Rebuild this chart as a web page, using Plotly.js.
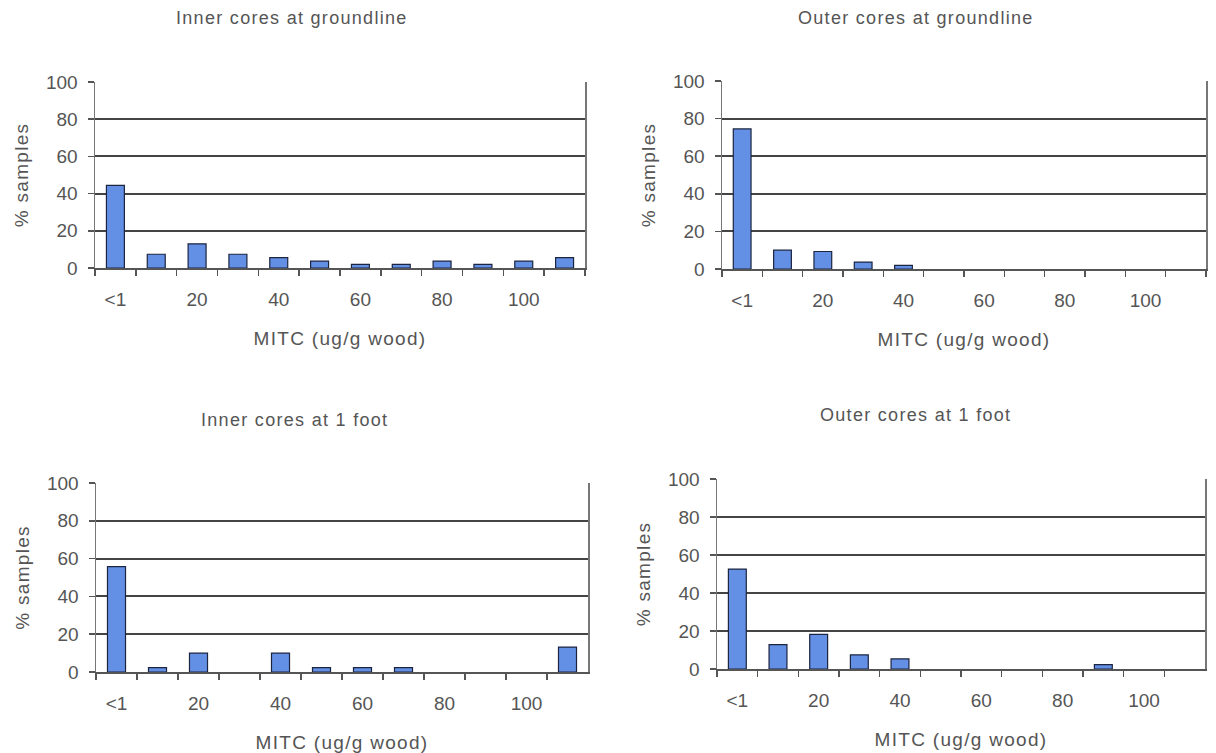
<!DOCTYPE html>
<html>
<head>
<meta charset="utf-8">
<script src="https://cdn.plot.ly/plotly-3.0.1.min.js"></script>
<style>
  html, body { margin: 0; padding: 0; background: #fff; }
  #chart { width: 1216px; height: 753px; }
  .annotation-text { letter-spacing: 1.3px; }
  .g-xtitle text, .g-x2title text, .g-x3title text, .g-x4title text,
  .g-ytitle text, .g-y2title text, .g-y3title text, .g-y4title text { letter-spacing: 1.3px; }
</style>
</head>
<body>
<div id="chart"></div>
<script>
// ---- data ----
const categories = ["<1", "10", "20", "30", "40", "50", "60", "70", "80", "90", "100", "110"];
const tickLabels = ["<1", "", "20", "", "40", "", "60", "", "80", "", "100", ""];
const panelTitles = ["Inner cores at groundline", "Outer cores at groundline", "Inner cores at 1 foot", "Outer cores at 1 foot"];
const innerGroundline = [44.4, 7.4, 13.0, 7.4, 5.6, 3.7, 1.9, 1.9, 3.7, 1.9, 3.7, 5.6];
const outerGroundline = [74.5, 10.0, 9.3, 3.7, 1.9, 0, 0, 0, 0, 0, 0, 0];
const inner1Foot = [55.8, 2.3, 10.0, 0, 10.0, 2.3, 2.3, 2.3, 0, 0, 0, 13.2];
const outer1Foot = [52.6, 12.8, 18.2, 7.4, 5.3, 0, 0, 0, 0, 2.3, 0, 0];
const xTitle = "MITC (ug/g wood)";
const yTitle = "% samples";
const yTicks = [0, 20, 40, 60, 80, 100];

// ---- styling ----
const W = 1216, H = 753;
const FONT = "Liberation Sans, Arial, sans-serif";
const TXT = "#555555";
const series = [innerGroundline, outerGroundline, inner1Foot, outer1Foot];
// plot-area boxes in pixels: [left, right, top, bottom]
const boxes = [
  [95, 585, 82, 268],
  [722, 1206, 81, 269],
  [96, 588, 483, 672],
  [717, 1205, 479, 669]
];
const titlePos = [[292, 18], [916, 18], [294, 420], [915, 415]];

const data = [];
const layout = {
  width: W, height: H,
  margin: {l: 0, r: 0, t: 0, b: 0},
  paper_bgcolor: "#ffffff",
  plot_bgcolor: "#ffffff",
  showlegend: false,
  bargap: 0.56,
  font: {family: FONT, color: TXT, size: 19},
  annotations: []
};

series.forEach((vals, i) => {
  const n = i + 1;
  const xa = n === 1 ? "x" : "x" + n;
  const ya = n === 1 ? "y" : "y" + n;
  data.push({
    type: "bar",
    x: categories,
    // empty classes are left undrawn, as in the original
    y: vals.map(v => (v === 0 ? null : v)),
    xaxis: xa, yaxis: ya,
    marker: {color: "#6390e4", line: {color: "#1c2440", width: 1.2}},
    hoverinfo: "x+y"
  });
  const b = boxes[i];
  const xKey = n === 1 ? "xaxis" : "xaxis" + n;
  const yKey = n === 1 ? "yaxis" : "yaxis" + n;
  layout[xKey] = {
    domain: [b[0] / W, b[1] / W],
    anchor: ya,
    type: "category",
    categoryorder: "array",
    categoryarray: categories,
    range: [-0.5, categories.length - 0.5],
    tickmode: "array",
    tickvals: categories,
    ticktext: tickLabels,
    tickangle: 0,
    tickson: "boundaries",
    ticks: "outside",
    ticklen: 6,
    tickwidth: 1.5,
    tickcolor: "#555",
    showline: true,
    linecolor: "#555",
    linewidth: 1.5,
    showgrid: false,
    zeroline: false,
    tickfont: {family: FONT, size: 19, color: TXT},
    ticklabelstandoff: 14,
    title: {text: xTitle, font: {family: FONT, size: 19, color: TXT}, standoff: 22},
    fixedrange: true
  };
  layout[yKey] = {
    domain: [1 - b[3] / H, 1 - b[2] / H],
    anchor: xa,
    range: [0, 100],
    tickmode: "array",
    tickvals: yTicks,
    ticks: "outside",
    ticklen: 6,
    tickwidth: 1.5,
    tickcolor: "#555",
    showline: true,
    mirror: true,
    linecolor: "#777",
    linewidth: 1.5,
    showgrid: true,
    gridcolor: "#444444",
    gridwidth: 2,
    zeroline: false,
    tickfont: {family: FONT, size: 19, color: TXT},
    ticklabelstandoff: 6,
    title: {text: yTitle, font: {family: FONT, size: 19, color: TXT}, standoff: 12},
    fixedrange: true
  };
  layout.annotations.push({
    text: panelTitles[i],
    xref: "paper", yref: "paper",
    x: titlePos[i][0] / W, y: 1 - titlePos[i][1] / H,
    xanchor: "center", yanchor: "middle",
    showarrow: false,
    font: {family: FONT, size: 18, color: TXT}
  });
});

Plotly.newPlot("chart", data, layout, {displayModeBar: false, staticPlot: true});
</script>
</body>
</html>
